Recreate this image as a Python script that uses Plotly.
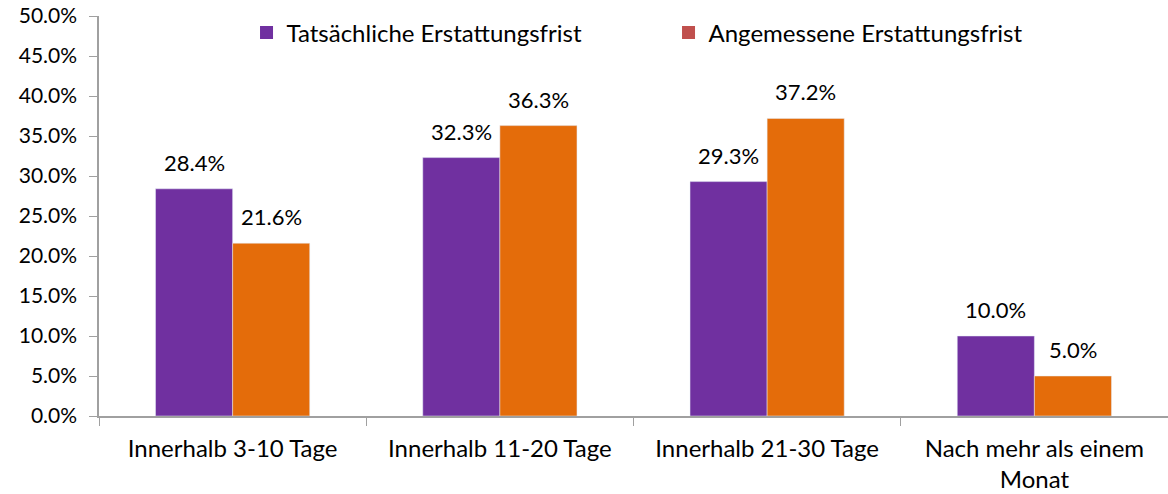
import plotly.graph_objects as go

categories = ["Innerhalb 3-10 Tage", "Innerhalb 11-20 Tage", "Innerhalb 21-30 Tage",
              "Nach mehr als einem<br>Monat"]
tatsaechlich = [0.284, 0.323, 0.293, 0.100]
angemessen = [0.216, 0.363, 0.372, 0.050]

purple = "#7030A0"
orange = "#E46C0A"
legend_red = "#C0504D"

fig = go.Figure()
fig.add_trace(go.Bar(x=categories, y=tatsaechlich, marker_color=purple, showlegend=False))
fig.add_trace(go.Bar(x=categories, y=angemessen, marker_color=orange, showlegend=False))
# Legendeneinträge (Farbe wie im Original)
for name, col in [("Tatsächliche Erstattungsfrist", purple),
                  ("Angemessene Erstattungsfrist", legend_red)]:
    fig.add_trace(go.Scatter(x=[None], y=[None], mode="markers", name=name,
                             marker=dict(symbol="square", size=13, color=col)))

# Datenbeschriftungen über den Balken
for vals, shift in [(tatsaechlich, -38.5), (angemessen, 38.5)]:
    for cat, v in zip(categories, vals):
        fig.add_annotation(x=cat, y=v, text=f"{v:.1%}", showarrow=False,
                           xshift=shift, yshift=11, yanchor="bottom",
                           font=dict(size=22, color="#000000"))

fig.update_layout(
    width=1168, height=494,
    margin=dict(l=99, r=0, t=16, b=78),
    paper_bgcolor="white", plot_bgcolor="white",
    font=dict(family="Lato", size=22, color="#000000"),
    barmode="group", bargap=0.423, bargroupgap=0,
    legend=dict(orientation="h", x=0.138, y=0.9575, xanchor="left", yanchor="middle",
                font=dict(size=24), itemwidth=30, traceorder="normal",
                entrywidth=377, bgcolor="rgba(0,0,0,0)"),
)
fig.update_xaxes(showline=True, linecolor="#A0A0A0", linewidth=1.5, ticks="outside",
                 tickson="boundaries", ticklen=8, tickcolor="#A0A0A0", showgrid=False,
                 tickfont=dict(size=24), ticklabelstandoff=10, automargin=False)
fig.update_yaxes(range=[0, 0.5], dtick=0.05, tickformat=".1%", showline=True,
                 linecolor="#A0A0A0", linewidth=1.5, ticks="outside", ticklen=8,
                 tickcolor="#A0A0A0", showgrid=False, zeroline=False,
                 tickfont=dict(size=21), ticklabelstandoff=8, automargin=False)

# Browser-Standardrand entfernen, damit die Grafik bündig im Fenster sitzt
fig.write_html("out.html", config={"displayModeBar": False},
               post_script="document.body.style.margin='0';")
